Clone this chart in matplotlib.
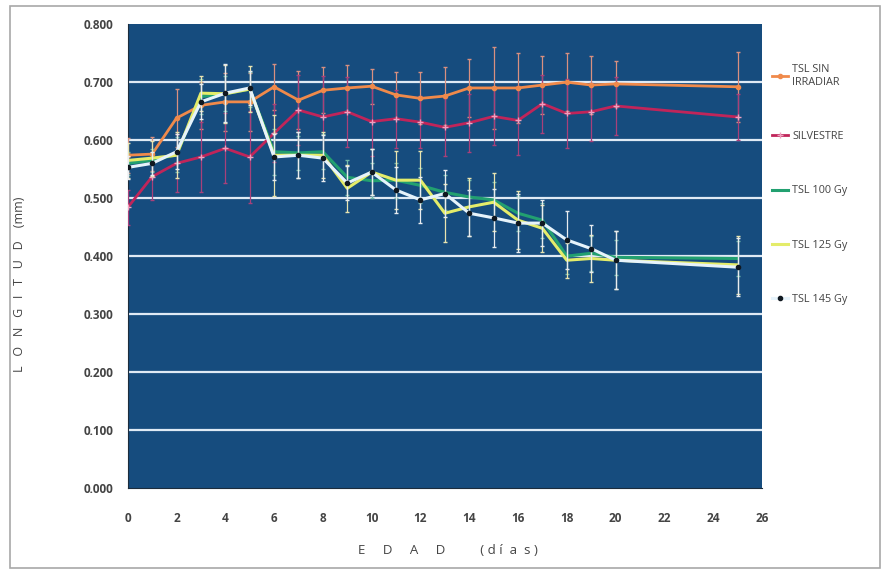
import matplotlib.pyplot as plt
from matplotlib.patches import Rectangle

plt.rcParams['font.family'] = ['Open Sans', 'DejaVu Sans']

dias = [0, 1, 2, 3, 4, 5, 6, 7, 8, 9, 10, 11, 12, 13, 14, 15, 16, 17, 18, 19, 20, 25]

sin_irradiar = [0.574, 0.576, 0.638, 0.660, 0.666, 0.666, 0.692, 0.669, 0.686, 0.690, 0.693,
                0.678, 0.672, 0.676, 0.690, 0.690, 0.690, 0.695, 0.700, 0.695, 0.697, 0.692]
sin_irradiar_err = [0.03, 0.03, 0.05, 0.04, 0.05, 0.05, 0.04, 0.05, 0.04, 0.04, 0.03, 0.04,
                    0.045, 0.05, 0.05, 0.07, 0.06, 0.05, 0.05, 0.05, 0.04, 0.06]

silvestre = [0.484, 0.537, 0.560, 0.571, 0.586, 0.571, 0.612, 0.652, 0.640, 0.649, 0.632,
             0.637, 0.631, 0.622, 0.630, 0.641, 0.634, 0.663, 0.646, 0.649, 0.659, 0.640]
silvestre_err = [0.03, 0.04, 0.05, 0.06, 0.06, 0.08, 0.05, 0.06, 0.07, 0.06, 0.06, 0.05,
                 0.045, 0.05, 0.05, 0.05, 0.06, 0.05, 0.06, 0.05, 0.05, 0.04]

tsl_100 = [0.560, 0.565, 0.575, 0.675, 0.680, 0.688, 0.580, 0.578, 0.580, 0.536, 0.530,
           0.531, 0.522, 0.510, 0.502, 0.497, 0.474, 0.462, 0.400, 0.405, 0.398, 0.396]
tsl_100_err = [0.02, 0.02, 0.03, 0.03, 0.03, 0.03, 0.04, 0.03, 0.03, 0.03, 0.03, 0.03,
               0.03, 0.03, 0.03, 0.03, 0.03, 0.03, 0.03, 0.03, 0.03, 0.03]

tsl_125 = [0.565, 0.569, 0.574, 0.681, 0.680, 0.688, 0.574, 0.574, 0.574, 0.517, 0.545,
           0.531, 0.531, 0.474, 0.485, 0.493, 0.462, 0.448, 0.393, 0.396, 0.393, 0.385]
tsl_125_err = [0.03, 0.03, 0.04, 0.03, 0.05, 0.04, 0.07, 0.04, 0.04, 0.04, 0.04, 0.05,
               0.05, 0.05, 0.05, 0.05, 0.05, 0.04, 0.03, 0.04, 0.05, 0.05]

tsl_145 = [0.553, 0.560, 0.580, 0.666, 0.681, 0.690, 0.571, 0.574, 0.569, 0.526, 0.545,
           0.514, 0.497, 0.508, 0.474, 0.466, 0.457, 0.457, 0.428, 0.413, 0.393, 0.381]
tsl_145_err = [0.02, 0.02, 0.03, 0.03, 0.05, 0.03, 0.04, 0.04, 0.04, 0.03, 0.04, 0.04,
               0.04, 0.04, 0.04, 0.05, 0.05, 0.04, 0.05, 0.04, 0.05, 0.05]

fig = plt.figure(figsize=(8.87, 5.75), dpi=100)
ax = fig.add_axes([0.144, 0.151, 0.715, 0.807])
ax.set_facecolor('#164c7e')

# marco gris alrededor del grafico
fig.patches.append(Rectangle((0.011, 0.012), 0.981, 0.978, transform=fig.transFigure,
                             fill=False, edgecolor='#a8a8a8', linewidth=1.2))

for v in [0.1, 0.2, 0.3, 0.4, 0.5, 0.6, 0.7]:
    ax.axhline(v, color='#dfeaf5', linewidth=1.6, zorder=1)

series = []
series.append(ax.errorbar(dias, sin_irradiar, yerr=sin_irradiar_err, color='#f08a4b',
                          ecolor='#d89080', elinewidth=0.9, capsize=1.5, marker='o',
                          markersize=3, linewidth=2.0, label='TSL SIN\nIRRADIAR', zorder=3))
series.append(ax.errorbar(dias, silvestre, yerr=silvestre_err, color='#c0255a',
                          ecolor='#a8407a', elinewidth=0.9, capsize=1.5, marker='+',
                          markersize=4, mec='#f0a0c0', linewidth=2.0, label='SILVESTRE',
                          zorder=3))
series.append(ax.errorbar(dias, tsl_100, yerr=tsl_100_err, color='#22a070', ecolor='#6fb6a8',
                          elinewidth=0.9, capsize=1.5, linewidth=2.2, label='TSL 100 Gy',
                          zorder=4))
series.append(ax.errorbar(dias, tsl_125, yerr=tsl_125_err, color='#e4ec6a', ecolor='#e8e4b0',
                          elinewidth=0.9, capsize=1.5, linewidth=2.2, label='TSL 125 Gy',
                          zorder=5))
series.append(ax.errorbar(dias, tsl_145, yerr=tsl_145_err, color='#e6f3fb', ecolor='#e8ecf0',
                          elinewidth=0.9, capsize=1.5, marker='o', markersize=3,
                          mfc='#101820', mec='#101820', linewidth=2.2, label='TSL 145 Gy',
                          zorder=6))

ax.set_xlim(0, 26)
ax.set_ylim(0, 0.8)
ax.set_xticks(range(0, 27, 2))
ax.set_yticks([0.0, 0.1, 0.2, 0.3, 0.4, 0.5, 0.6, 0.7, 0.8])
ax.set_yticklabels(['%.3f' % v for v in ax.get_yticks()])
ax.tick_params(axis='x', length=0, labelsize=8.5, labelcolor='#444444', pad=17)
ax.tick_params(axis='y', length=0, labelsize=8.5, labelcolor='#444444', pad=10)
for lab in ax.get_xticklabels() + ax.get_yticklabels():
    lab.set_fontweight('bold')
for s in ['top', 'right']:
    ax.spines[s].set_visible(False)
ax.spines['left'].set_color('#1c2c3c')
ax.spines['bottom'].set_color('#1c2c3c')

ax.set_xlabel('E     D     A     D          ( d í  a  s )', fontsize=9.5, color='#444444',
              labelpad=14, x=0.505)
ax.set_ylabel('L   O   N   G   I   T   U   D    (mm)', fontsize=9, color='#444444',
              labelpad=42, y=0.44)

handles = [s[0] for s in series]
labels = [s.get_label() for s in series]
leg = ax.legend(handles, labels, loc='upper left', bbox_to_anchor=(1.0, 0.935),
                frameon=False, fontsize=7.8, labelspacing=4.0, handlelength=1.5,
                handletextpad=0.4)
for t in leg.get_texts():
    t.set_color('#444444')

fig.savefig('out.png', dpi=100)
